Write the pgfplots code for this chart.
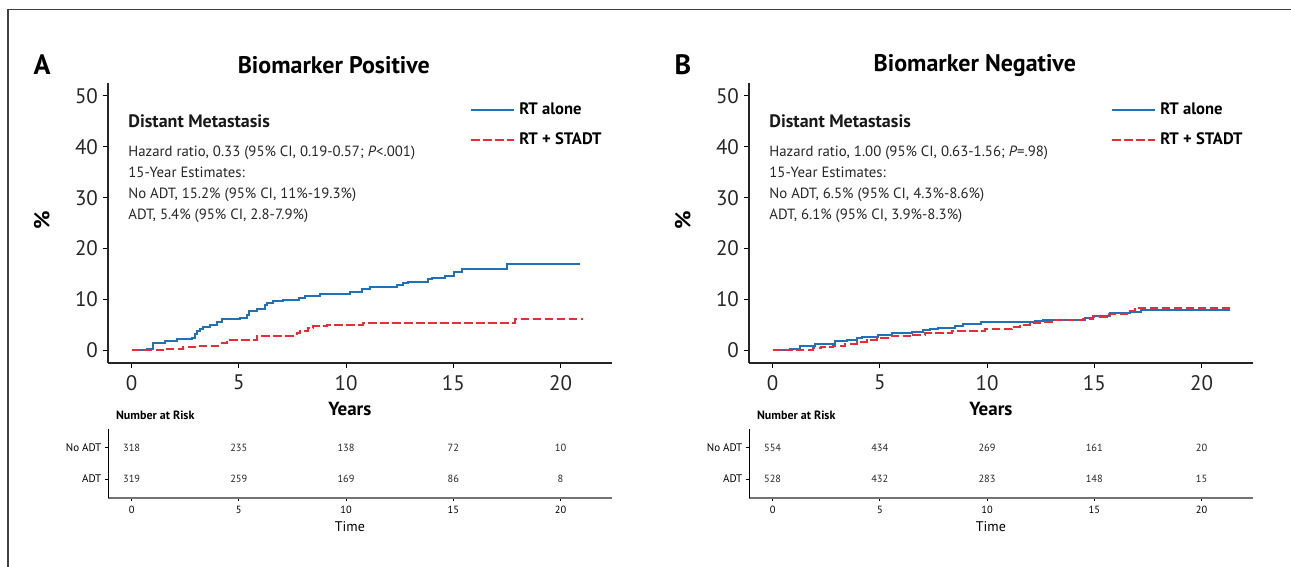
\documentclass[border=0pt]{standalone}
\usepackage{fontspec}
\setmainfont{PT Sans}
\usepackage{pgfplots}
\usepackage{pgfplotstable}
\pgfplotsset{compat=1.18}
\definecolor{kmblue}{RGB}{31,114,186}
\definecolor{kmred}{RGB}{233,45,55}
\newcommand\fs[1]{\fontsize{#1}{#1}\selectfont}

\pgfplotstableread{
x y
0 0
0.70 0.25
1.01 1.5
1.56 1.9
2.13 2.2
2.80 2.5
2.95 3.2
3.05 3.7
3.19 4.2
3.34 4.5
3.65 4.9
3.97 5.6
4.20 6.1
5.05 6.4
5.37 7.0
5.49 7.7
5.83 8.1
6.22 8.9
6.30 9.2
6.61 9.6
7.08 9.8
7.82 10.2
8.09 10.6
8.79 11.0
10.19 11.4
10.73 12.0
11.12 12.4
12.36 12.8
12.67 13.3
12.91 13.5
13.84 14.0
14.00 14.3
14.62 14.7
15.01 15.4
15.40 15.9
17.50 17.0
20.92 17.0
}\posblue
\pgfplotstableread{
x y
0 0
1.63 0.35
2.41 0.7
3.19 0.9
4.20 1.4
4.43 2.0
5.83 2.8
7.70 3.3
7.85 3.8
8.24 4.4
8.48 4.8
9.10 5.0
10.81 5.35
17.88 6.1
21.07 6.1
}\posred
\pgfplotstableread{
x y
0 0
0.50 0.15
0.81 0.35
1.27 0.9
1.97 1.3
2.91 1.8
3.45 2.05
3.92 2.35
4.15 2.7
4.93 3.0
5.55 3.35
6.48 3.65
7.02 3.9
7.33 4.1
7.72 4.4
8.50 4.7
8.86 5.2
9.74 5.55
12.23 5.75
12.62 5.9
13.47 6.0
14.56 6.3
14.95 6.7
15.73 7.4
16.66 7.6
17.20 8.0
21.32 8.0
}\negblue
\pgfplotstableread{
x y
0 0
0.96 0.15
1.90 0.4
2.28 0.65
2.83 0.9
3.37 1.3
3.92 1.6
4.38 2.0
4.85 2.4
5.47 2.75
6.56 3.1
7.10 3.4
8.35 3.8
9.90 4.1
11.14 4.6
11.53 5.0
12.00 5.35
12.46 5.6
13.16 5.9
14.02 6.0
14.48 6.2
14.95 6.6
15.57 7.2
16.66 7.7
16.89 8.4
21.32 8.4
}\negred
\pgfplotstableread{
x y n
0 2 318
5 2 235
10 2 138
15 2 72
20 2 10
0 1 319
5 1 259
10 1 169
15 1 86
20 1 8
}\posrisk
\pgfplotstableread{
x y n
0 2 554
5 2 434
10 2 269
15 2 161
20 2 20
0 1 528
5 1 432
10 1 283
15 1 148
20 1 15
}\negrisk

\pgfplotsset{
  every axis title shift=0pt,
  kmmain/.style={
    scale only axis, width=252pt, height=140.15pt,
    xmin=-1.1, xmax=22.4, ymin=-2.5, ymax=52.6,
    axis lines=left,
    axis line style={-, line width=0.6pt, black!85},
    tick align=outside, major tick length=2.5pt,
    tick style={line width=0.5pt, black},
    xtick={0,5,10,15,20}, ytick={0,10,20,30,40,50},
    ticklabel style={font=\fs{10.5}, text=black!85},
    yticklabel style={xshift=1pt},
    /pgf/number format/assume math mode=true,
    title style={at={(axis description cs:0.448,1.063)}, anchor=center, font=\bfseries\fs{12}},
    xlabel style={at={(axis description cs:0.48,-0.164)}, anchor=center, font=\bfseries\fs{9.5}},
    ylabel style={at={(axis description cs:-0.131,0.51)}, anchor=center, rotate=0, font=\bfseries\fs{11}},
    legend style={draw=none, fill=none, at={(axis description cs:0.718,0.931)}, anchor=north west,
      inner sep=0pt, row sep=7.3pt, column sep=2pt,
      nodes={inner sep=0pt, text height=6pt, text depth=1.5pt},
      font=\bfseries\fs{8.3}},
    legend cell align=left,
    legend image code/.code={\draw[#1] (0pt,0pt) -- (21.5pt,0pt);},
  },
  kmrisk/.style={
    scale only axis, width=252pt, height=34.5pt,
    xmin=-1.1, xmax=22.4, ymin=0.393, ymax=2.6,
    axis lines=left,
    x axis line style={-, line width=1pt, black!55},
    y axis line style={-, line width=0.5pt, black},
    tick align=outside, major tick length=1.3pt,
    tick style={line width=0.4pt, black},
    xtick={0,5,10,15,20}, ytick={1,2}, yticklabels={ADT,No ADT},
    xticklabel style={font=\fs{5.2}, yshift=0.8pt},
    yticklabel style={font=\fs{5.5}, xshift=1.5pt},
    /pgf/number format/assume math mode=true,
    title style={at={(axis description cs:0.002,1.203)}, anchor=west, font=\bfseries\fs{6}},
    xlabel style={at={(axis description cs:0.48,-0.42)}, anchor=center, font=\fs{7}},
  },
  bluecurve/.style={const plot, color=kmblue, line width=1pt},
  redcurve/.style={const plot, color=kmred, line width=1pt, dash pattern=on 4.2pt off 1.8pt},
  risknum/.style={draw=none, nodes near coords, point meta=explicit symbolic,
    nodes near coords style={anchor=center, font=\fs{5.2}, text=black!85}},
}

\begin{document}
\begin{tikzpicture}[txt/.style={anchor=base west, inner sep=0pt, font=\fs{7.4}, text=black!85},
  hdr/.style={anchor=base west, inner sep=0pt, font=\bfseries\fs{9}, text=black!90}]
\useasboundingbox (0,0) rectangle (645.5pt,-283.5pt);
\draw[line width=0.6pt, black!75] (4pt,-283.5pt) -- (4pt,-4.65pt) -- (645.5pt,-4.65pt);

% ---------- Panel A ----------
\node[font=\bfseries\fs{14}] at (21pt,-32.5pt) {A};
\begin{axis}[kmmain, at={(54pt,-181.5pt)}, anchor=south west,
  title={Biomarker Positive}, xlabel={Years}, ylabel={\%}]
\addplot[bluecurve] table[x=x,y=y] {\posblue};
\addlegendentry{RT alone}
\addplot[redcurve] table[x=x,y=y] {\posred};
\addlegendentry{RT + STADT}
\end{axis}
\node[hdr] at (64pt,-63.65pt) {Distant Metastasis};
\node[txt] at (64pt,-78.35pt) {Hazard ratio, 0.33 (95\% CI, 0.19-0.57; \textit{P}<.001)};
\node[txt] at (64pt,-88.65pt) {15-Year Estimates:};
\node[txt] at (64pt,-99.35pt) {No ADT, 15.2\% (95\% CI, 11\%-19.3\%)};
\node[txt] at (64pt,-110pt) {ADT, 5.4\% (95\% CI, 2.8-7.9\%)};

\begin{axis}[kmrisk, at={(54pt,-249pt)}, anchor=south west,
  title={Number at Risk}, xlabel={Time}]
\addplot[risknum] table[x=x,y=y,meta=n] {\posrisk};
\end{axis}

% ---------- Panel B ----------
\node[font=\bfseries\fs{14}] at (341.5pt,-32.5pt) {B};
\begin{axis}[kmmain, at={(374.5pt,-181.5pt)}, anchor=south west,
  title={Biomarker Negative}, xlabel={Years}, ylabel={\%}]
\addplot[bluecurve] table[x=x,y=y] {\negblue};
\addlegendentry{RT alone}
\addplot[redcurve] table[x=x,y=y] {\negred};
\addlegendentry{RT + STADT}
\end{axis}
\node[hdr] at (384.5pt,-63.65pt) {Distant Metastasis};
\node[txt] at (384.5pt,-78.35pt) {Hazard ratio, 1.00 (95\% CI, 0.63-1.56; \textit{P}=.98)};
\node[txt] at (384.5pt,-88.65pt) {15-Year Estimates:};
\node[txt] at (384.5pt,-99.35pt) {No ADT, 6.5\% (95\% CI, 4.3\%-8.6\%)};
\node[txt] at (384.5pt,-110pt) {ADT, 6.1\% (95\% CI, 3.9\%-8.3\%)};

\begin{axis}[kmrisk, at={(374.5pt,-249pt)}, anchor=south west,
  title={Number at Risk}, xlabel={Time}]
\addplot[risknum] table[x=x,y=y,meta=n] {\negrisk};
\end{axis}
\end{tikzpicture}
\end{document}
